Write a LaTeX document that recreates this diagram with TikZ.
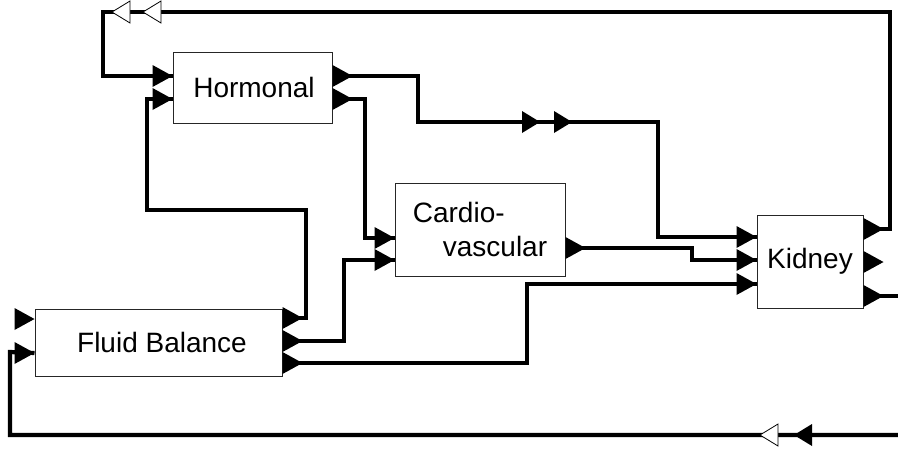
\documentclass[tikz,border=0pt]{standalone}
\usepackage{fontspec}
\setmainfont{Liberation Sans}
\usetikzlibrary{calc}
\tikzset{
  box/.style={draw=black!85, line width=1pt, fill=white, inner sep=0pt,
    font=\fontsize{28}{34}\selectfont},
  conn/.style={line width=4.2pt, line join=miter},
  inport/.pic={\fill[black] (-20,-11) -- (0,0) -- (-20,11) -- cycle;},
  outport/.pic={\fill[black] (0,-11) -- (20,0) -- (0,11) -- cycle;},
  midfill/.pic={\fill[black] (-18,-11) -- (0,0) -- (-18,11) -- cycle;},
  midfillleft/.pic={\fill[black] (18,-11) -- (0,0) -- (18,11) -- cycle;},
  midhollow/.pic={\filldraw[fill=white, draw=black, line width=0.8pt] (18,-11) -- (0,0) -- (18,11) -- cycle;},
}
\begin{document}
\begin{tikzpicture}[x=1pt,y=-1pt]
\useasboundingbox (0,0) rectangle (898,451);

% boxes
\node[box, minimum width=159pt, minimum height=71pt] (hor) at (252.5,87.5) {\hspace*{3pt}Hormonal};
\node[box, minimum width=170pt, minimum height=93pt, align=left] (cv) at (480,229.5) {Cardio-\\\hspace*{30pt}vascular};
\node[box, minimum width=106pt, minimum height=93pt] (kid) at (810,261.5) {Kidney};
\node[box, minimum width=247pt, minimum height=67pt] (fb) at (158.5,342.5) {\hspace*{7pt}Fluid Balance};

% ports
\coordinate (hor-i1) at (hor.west |- 0,76);
\coordinate (hor-i2) at (hor.west |- 0,99);
\coordinate (hor-o1) at (hor.east |- 0,76);
\coordinate (hor-o2) at (hor.east |- 0,99);
\coordinate (cv-i1) at (cv.west |- 0,238);
\coordinate (cv-i2) at (cv.west |- 0,260);
\coordinate (cv-o1) at (cv.east |- 0,248);
\coordinate (kid-i1) at (kid.west |- 0,237);
\coordinate (kid-i2) at (kid.west |- 0,260);
\coordinate (kid-i3) at (kid.west |- 0,284);
\coordinate (kid-o1) at (kid.east |- 0,229);
\coordinate (kid-o2) at (kid.east |- 0,262);
\coordinate (kid-o3) at (kid.east |- 0,296);
\coordinate (fb-i1) at (fb.west |- 0,319);
\coordinate (fb-i2) at (fb.west |- 0,353);
\coordinate (fb-o1) at (fb.east |- 0,318);
\coordinate (fb-o2) at (fb.east |- 0,341);
\coordinate (fb-o3) at (fb.east |- 0,363);
\coordinate (east-a) at (898,296);
\coordinate (east-b) at (898,435);

% connectors
\draw[conn] (hor-o1) -- (418,76) |- (658,122) |- (kid-i1);
\draw[conn] (hor-o2) -- (365,99) |- (cv-i1);
\draw[conn] (cv-o1) -- (692,248) |- (kid-i2);
\draw[conn] (kid-o1) -| (890,12) -| (103,76) -- (hor-i1);
\draw[conn] (kid-o3) -- (east-a);
\draw[conn] (east-b) -| (10,352) -- (fb-i2);
\draw[conn] (fb-o1) -| (306,210) -| (147,99) -- (hor-i2);
\draw[conn] (fb-o2) -| (344,260) -- (cv-i2);
\draw[conn] (fb-o3) -| (527,284) -- (kid-i3);

% port triangles
\foreach \p in {hor-i1,hor-i2,cv-i1,cv-i2,kid-i1,kid-i2,kid-i3,fb-i1,fb-i2}
  \pic at (\p) {inport};
\foreach \p in {hor-o1,hor-o2,cv-o1,kid-o1,kid-o2,kid-o3,fb-o1,fb-o2,fb-o3}
  \pic at (\p) {outport};

% arrows along lines
\pic at (540,122) {midfill};
\pic at (572,122) {midfill};
\pic at (112,12) {midhollow};
\pic at (143,12) {midhollow};
\pic at (760,435) {midhollow};
\pic at (794,435) {midfillleft};
\end{tikzpicture}
\end{document}
